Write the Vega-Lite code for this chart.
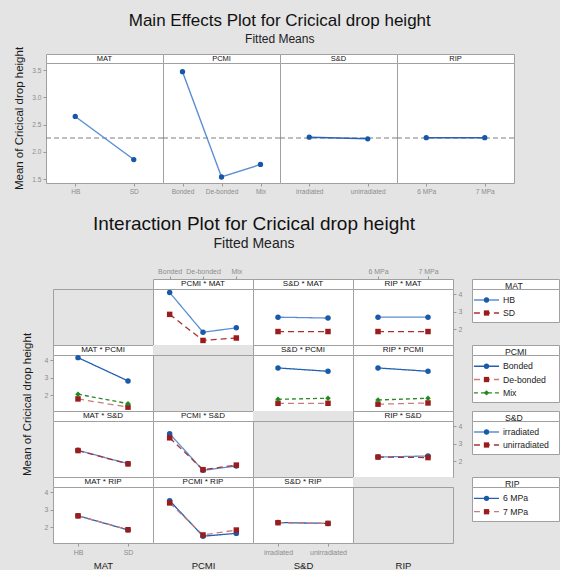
{
"$schema": "https://vega.github.io/schema/vega-lite/v6.json",
"background": "#E4E4E4",
"padding": {"left": 12, "top": 11, "right": 0, "bottom": 0},
"config": {
  "axis": {"labelColor": "#8C8C8C", "tickColor": "#9A9A9A", "labelFont": "Liberation Sans", "labelFontSize": 7, "titleFont": "Liberation Sans", "titleColor": "#1A1A1A", "titleFontWeight": "normal", "domain": false, "grid": false, "tickSize": 3, "labelPadding": 2, "labelOverlap": false},
  "legend": {"disable": true},
  "title": {"font": "Liberation Sans", "color": "#111111", "subtitleFont": "Liberation Sans", "subtitleColor": "#222222", "fontWeight": "normal"},
  "text": {"font": "Liberation Sans"}
},
"datasets": {
  "main": [
    {"factor": "MAT", "level": "HB", "mean": 2.65},
    {"factor": "MAT", "level": "SD", "mean": 1.86},
    {"factor": "PCMI", "level": "Bonded", "mean": 3.47},
    {"factor": "PCMI", "level": "De-bonded", "mean": 1.54},
    {"factor": "PCMI", "level": "Mix", "mean": 1.77},
    {"factor": "S&D", "level": "irradiated", "mean": 2.27},
    {"factor": "S&D", "level": "unirradiated", "mean": 2.24},
    {"factor": "RIP", "level": "6 MPa", "mean": 2.26},
    {"factor": "RIP", "level": "7 MPa", "mean": 2.26}
  ],
  "grand": [{"mean": 2.255}],
  "legend": [
    {"legend": "MAT", "trace": "HB"}, {"legend": "MAT", "trace": "SD"},
    {"legend": "PCMI", "trace": "Bonded"}, {"legend": "PCMI", "trace": "De-bonded"}, {"legend": "PCMI", "trace": "Mix"},
    {"legend": "S&D", "trace": "irradiated"}, {"legend": "S&D", "trace": "unirradiated"},
    {"legend": "RIP", "trace": "6 MPa"}, {"legend": "RIP", "trace": "7 MPa"}
  ],
  "inter": [
    {"cell": "PCMI * MAT", "x": "Bonded", "trace": "HB", "mean": 4.10},
    {"cell": "PCMI * MAT", "x": "De-bonded", "trace": "HB", "mean": 1.83},
    {"cell": "PCMI * MAT", "x": "Mix", "trace": "HB", "mean": 2.08},
    {"cell": "PCMI * MAT", "x": "Bonded", "trace": "SD", "mean": 2.85},
    {"cell": "PCMI * MAT", "x": "De-bonded", "trace": "SD", "mean": 1.36},
    {"cell": "PCMI * MAT", "x": "Mix", "trace": "SD", "mean": 1.50},
    {"cell": "S&D * MAT", "x": "irradiated", "trace": "HB", "mean": 2.69},
    {"cell": "S&D * MAT", "x": "unirradiated", "trace": "HB", "mean": 2.64},
    {"cell": "S&D * MAT", "x": "irradiated", "trace": "SD", "mean": 1.87},
    {"cell": "S&D * MAT", "x": "unirradiated", "trace": "SD", "mean": 1.87},
    {"cell": "RIP * MAT", "x": "6 MPa", "trace": "HB", "mean": 2.69},
    {"cell": "RIP * MAT", "x": "7 MPa", "trace": "HB", "mean": 2.69},
    {"cell": "RIP * MAT", "x": "6 MPa", "trace": "SD", "mean": 1.87},
    {"cell": "RIP * MAT", "x": "7 MPa", "trace": "SD", "mean": 1.87},
    {"cell": "MAT * PCMI", "x": "HB", "trace": "Bonded", "mean": 4.15},
    {"cell": "MAT * PCMI", "x": "SD", "trace": "Bonded", "mean": 2.82},
    {"cell": "MAT * PCMI", "x": "HB", "trace": "De-bonded", "mean": 1.79},
    {"cell": "MAT * PCMI", "x": "SD", "trace": "De-bonded", "mean": 1.32},
    {"cell": "MAT * PCMI", "x": "HB", "trace": "Mix", "mean": 2.06},
    {"cell": "MAT * PCMI", "x": "SD", "trace": "Mix", "mean": 1.52},
    {"cell": "S&D * PCMI", "x": "irradiated", "trace": "Bonded", "mean": 3.56},
    {"cell": "S&D * PCMI", "x": "unirradiated", "trace": "Bonded", "mean": 3.37},
    {"cell": "S&D * PCMI", "x": "irradiated", "trace": "De-bonded", "mean": 1.54},
    {"cell": "S&D * PCMI", "x": "unirradiated", "trace": "De-bonded", "mean": 1.54},
    {"cell": "S&D * PCMI", "x": "irradiated", "trace": "Mix", "mean": 1.77},
    {"cell": "S&D * PCMI", "x": "unirradiated", "trace": "Mix", "mean": 1.83},
    {"cell": "RIP * PCMI", "x": "6 MPa", "trace": "Bonded", "mean": 3.56},
    {"cell": "RIP * PCMI", "x": "7 MPa", "trace": "Bonded", "mean": 3.37},
    {"cell": "RIP * PCMI", "x": "6 MPa", "trace": "De-bonded", "mean": 1.49},
    {"cell": "RIP * PCMI", "x": "7 MPa", "trace": "De-bonded", "mean": 1.56},
    {"cell": "RIP * PCMI", "x": "6 MPa", "trace": "Mix", "mean": 1.73},
    {"cell": "RIP * PCMI", "x": "7 MPa", "trace": "Mix", "mean": 1.83},
    {"cell": "MAT * S&D", "x": "HB", "trace": "irradiated", "mean": 2.63},
    {"cell": "MAT * S&D", "x": "SD", "trace": "irradiated", "mean": 1.86},
    {"cell": "MAT * S&D", "x": "HB", "trace": "unirradiated", "mean": 2.61},
    {"cell": "MAT * S&D", "x": "SD", "trace": "unirradiated", "mean": 1.85},
    {"cell": "PCMI * S&D", "x": "Bonded", "trace": "irradiated", "mean": 3.57},
    {"cell": "PCMI * S&D", "x": "De-bonded", "trace": "irradiated", "mean": 1.48},
    {"cell": "PCMI * S&D", "x": "Mix", "trace": "irradiated", "mean": 1.73},
    {"cell": "PCMI * S&D", "x": "Bonded", "trace": "unirradiated", "mean": 3.34},
    {"cell": "PCMI * S&D", "x": "De-bonded", "trace": "unirradiated", "mean": 1.52},
    {"cell": "PCMI * S&D", "x": "Mix", "trace": "unirradiated", "mean": 1.78},
    {"cell": "RIP * S&D", "x": "6 MPa", "trace": "irradiated", "mean": 2.24},
    {"cell": "RIP * S&D", "x": "7 MPa", "trace": "irradiated", "mean": 2.30},
    {"cell": "RIP * S&D", "x": "6 MPa", "trace": "unirradiated", "mean": 2.24},
    {"cell": "RIP * S&D", "x": "7 MPa", "trace": "unirradiated", "mean": 2.21},
    {"cell": "MAT * RIP", "x": "HB", "trace": "6 MPa", "mean": 2.66},
    {"cell": "MAT * RIP", "x": "SD", "trace": "6 MPa", "mean": 1.85},
    {"cell": "MAT * RIP", "x": "HB", "trace": "7 MPa", "mean": 2.65},
    {"cell": "MAT * RIP", "x": "SD", "trace": "7 MPa", "mean": 1.86},
    {"cell": "PCMI * RIP", "x": "Bonded", "trace": "6 MPa", "mean": 3.52},
    {"cell": "PCMI * RIP", "x": "De-bonded", "trace": "6 MPa", "mean": 1.49},
    {"cell": "PCMI * RIP", "x": "Mix", "trace": "6 MPa", "mean": 1.65},
    {"cell": "PCMI * RIP", "x": "Bonded", "trace": "7 MPa", "mean": 3.39},
    {"cell": "PCMI * RIP", "x": "De-bonded", "trace": "7 MPa", "mean": 1.56},
    {"cell": "PCMI * RIP", "x": "Mix", "trace": "7 MPa", "mean": 1.84},
    {"cell": "S&D * RIP", "x": "irradiated", "trace": "6 MPa", "mean": 2.27},
    {"cell": "S&D * RIP", "x": "unirradiated", "trace": "6 MPa", "mean": 2.22},
    {"cell": "S&D * RIP", "x": "irradiated", "trace": "7 MPa", "mean": 2.26},
    {"cell": "S&D * RIP", "x": "unirradiated", "trace": "7 MPa", "mean": 2.22}
  ]
},
"spacing": 18,
"vconcat": [
{
  "title": {"text": "Main Effects Plot for Cricical drop height", "subtitle": "Fitted Means", "fontSize": 17, "subtitleFontSize": 12, "subtitlePadding": 4, "anchor": "middle", "dx": 16, "offset": 0},
  "columns": 4, "spacing": 0, "bounds": "flush", "align": "each",
  "concat": [
    {"width": 117, "height": 9, "view": {"fill": "white", "stroke": "#A0A0A0"}, "data": {"values": [{"label": "MAT"}]}, "mark": {"type": "text", "fontSize": 7.5, "color": "#111"}, "encoding": {"text": {"field": "label"}}},
    {"width": 117, "height": 9, "view": {"fill": "white", "stroke": "#A0A0A0"}, "data": {"values": [{"label": "PCMI"}]}, "mark": {"type": "text", "fontSize": 7.5, "color": "#111"}, "encoding": {"text": {"field": "label"}}},
    {"width": 117, "height": 9, "view": {"fill": "white", "stroke": "#A0A0A0"}, "data": {"values": [{"label": "S&D"}]}, "mark": {"type": "text", "fontSize": 7.5, "color": "#111"}, "encoding": {"text": {"field": "label"}}},
    {"width": 117, "height": 9, "view": {"fill": "white", "stroke": "#A0A0A0"}, "data": {"values": [{"label": "RIP"}]}, "mark": {"type": "text", "fontSize": 7.5, "color": "#111"}, "encoding": {"text": {"field": "label"}}},
    {"width": 117, "height": 120, "view": {"fill": "white", "stroke": "#A0A0A0"},
     "encoding": {"y": {"field": "mean", "type": "quantitative", "scale": {"domain": [1.43, 3.63], "nice": false, "zero": false}, "axis": {"values": [1.5, 2, 2.5, 3, 3.5], "format": ".1f", "labelFontSize": 6.6, "title": "Mean of Cricical drop height", "titleX": -27, "titleY": 55, "titleAlign": "center", "titleBaseline": "middle", "titleAngle": -90, "titleFontSize": 11.5}}},
     "layer": [
       {"data": {"name": "grand"}, "mark": {"type": "rule", "color": "#7F7F7F", "strokeDash": [5, 3], "strokeWidth": 1}, "encoding": {}},
       {"data": {"name": "main"}, "transform": [{"filter": "datum.factor === 'MAT'"}], "mark": {"type": "line", "color": "#5A8ED2", "strokeWidth": 1.4}, "encoding": {"x": {"field": "level", "type": "nominal", "sort": null, "scale": {"type": "point", "padding": 0.5}, "axis": {"title": null, "labelAngle": 0, "labelFontSize": 6.6}}}},
       {"data": {"name": "main"}, "transform": [{"filter": "datum.factor === 'MAT'"}], "mark": {"type": "point", "filled": true, "color": "#1756A9", "size": 28, "opacity": 1}, "encoding": {"x": {"field": "level", "type": "nominal", "sort": null}}}
     ]},
    {"width": 117, "height": 120, "view": {"fill": "white", "stroke": "#A0A0A0"},
     "encoding": {"y": {"field": "mean", "type": "quantitative", "scale": {"domain": [1.43, 3.63], "nice": false, "zero": false}, "axis": null}},
     "layer": [
       {"data": {"name": "grand"}, "mark": {"type": "rule", "color": "#7F7F7F", "strokeDash": [5, 3], "strokeWidth": 1}, "encoding": {}},
       {"data": {"name": "main"}, "transform": [{"filter": "datum.factor === 'PCMI'"}], "mark": {"type": "line", "color": "#5A8ED2", "strokeWidth": 1.4}, "encoding": {"x": {"field": "level", "type": "nominal", "sort": null, "scale": {"type": "point", "padding": 0.5}, "axis": {"title": null, "labelAngle": 0, "labelFontSize": 6.6}}}},
       {"data": {"name": "main"}, "transform": [{"filter": "datum.factor === 'PCMI'"}], "mark": {"type": "point", "filled": true, "color": "#1756A9", "size": 28, "opacity": 1}, "encoding": {"x": {"field": "level", "type": "nominal", "sort": null}}}
     ]},
    {"width": 117, "height": 120, "view": {"fill": "white", "stroke": "#A0A0A0"},
     "encoding": {"y": {"field": "mean", "type": "quantitative", "scale": {"domain": [1.43, 3.63], "nice": false, "zero": false}, "axis": null}},
     "layer": [
       {"data": {"name": "grand"}, "mark": {"type": "rule", "color": "#7F7F7F", "strokeDash": [5, 3], "strokeWidth": 1}, "encoding": {}},
       {"data": {"name": "main"}, "transform": [{"filter": "datum.factor === 'S&D'"}], "mark": {"type": "line", "color": "#2B62B0", "strokeWidth": 1.4}, "encoding": {"x": {"field": "level", "type": "nominal", "sort": null, "scale": {"type": "point", "padding": 0.5}, "axis": {"title": null, "labelAngle": 0, "labelFontSize": 6.6}}}},
       {"data": {"name": "main"}, "transform": [{"filter": "datum.factor === 'S&D'"}], "mark": {"type": "point", "filled": true, "color": "#1756A9", "size": 28, "opacity": 1}, "encoding": {"x": {"field": "level", "type": "nominal", "sort": null}}}
     ]},
    {"width": 117, "height": 120, "view": {"fill": "white", "stroke": "#A0A0A0"},
     "encoding": {"y": {"field": "mean", "type": "quantitative", "scale": {"domain": [1.43, 3.63], "nice": false, "zero": false}, "axis": null}},
     "layer": [
       {"data": {"name": "grand"}, "mark": {"type": "rule", "color": "#7F7F7F", "strokeDash": [5, 3], "strokeWidth": 1}, "encoding": {}},
       {"data": {"name": "main"}, "transform": [{"filter": "datum.factor === 'RIP'"}], "mark": {"type": "line", "color": "#2B62B0", "strokeWidth": 1.4}, "encoding": {"x": {"field": "level", "type": "nominal", "sort": null, "scale": {"type": "point", "padding": 0.5}, "axis": {"title": null, "labelAngle": 0, "labelFontSize": 6.6}}}},
       {"data": {"name": "main"}, "transform": [{"filter": "datum.factor === 'RIP'"}], "mark": {"type": "point", "filled": true, "color": "#1756A9", "size": 28, "opacity": 1}, "encoding": {"x": {"field": "level", "type": "nominal", "sort": null}}}
     ]}
  ]
},
{
  "title": {"text": "Interaction Plot for Cricical drop height", "subtitle": "Fitted Means", "fontSize": 19, "subtitleFontSize": 14, "subtitlePadding": 3, "anchor": "middle", "dx": -36, "offset": 16},
  "columns": 7, "spacing": 0, "bounds": "flush", "align": "each",
  "concat": [
    {"width": 7, "height": 1, "view": {"stroke": null}, "data": {"values": [{}]}, "mark": {"type": "text"}, "encoding": {"text": {"value": ""}}},
    {"width": 100, "height": 10, "view": {"fill": "#E4E4E4", "stroke": null}, "data": {"values": [{}]}, "mark": {"type": "text"}, "encoding": {"text": {"value": ""}}},
    {"width": 100, "height": 10, "view": {"fill": "white", "stroke": "#A0A0A0"},
     "layer": [
       {"data": {"name": "inter"}, "transform": [{"filter": "datum.cell === 'PCMI * MAT'"}], "mark": {"type": "point", "opacity": 0}, "encoding": {"x": {"field": "x", "type": "nominal", "sort": null, "scale": {"type": "point", "padding": 0.5}, "axis": {"orient": "top", "title": null, "labelAngle": 0}}}},
       {"data": {"values": [{"label": "PCMI * MAT"}]}, "mark": {"type": "text", "fontSize": 8, "color": "#111"}, "encoding": {"text": {"field": "label"}}}
     ]},
    {"width": 100, "height": 10, "view": {"fill": "white", "stroke": "#A0A0A0"}, "data": {"values": [{"label": "S&D * MAT"}]}, "mark": {"type": "text", "fontSize": 8, "color": "#111"}, "encoding": {"text": {"field": "label"}}},
    {"width": 100, "height": 10, "view": {"fill": "white", "stroke": "#A0A0A0"},
     "layer": [
       {"data": {"name": "inter"}, "transform": [{"filter": "datum.cell === 'RIP * MAT'"}], "mark": {"type": "point", "opacity": 0}, "encoding": {"x": {"field": "x", "type": "nominal", "sort": null, "scale": {"type": "point", "padding": 0.5}, "axis": {"orient": "top", "title": null, "labelAngle": 0}}}},
       {"data": {"values": [{"label": "RIP * MAT"}]}, "mark": {"type": "text", "fontSize": 8, "color": "#111"}, "encoding": {"text": {"field": "label"}}}
     ]},
    {"width": 19, "height": 1, "view": {"stroke": null}, "data": {"values": [{}]}, "mark": {"type": "text"}, "encoding": {"text": {"value": ""}}},
    {"width": 87, "height": 10, "view": {"fill": "white", "stroke": "#A0A0A0"}, "data": {"values": [{"label": "MAT"}]}, "mark": {"type": "text", "fontSize": 8.7, "color": "#222", "align": "left", "dx": -10.5, "dy": 1.5}, "encoding": {"text": {"field": "label"}}},

    {"width": 7, "height": 1, "view": {"stroke": null}, "data": {"values": [{}]}, "mark": {"type": "text"}, "encoding": {"text": {"value": ""}}},
    {"width": 100, "height": 56, "view": {"fill": "#E4E4E4", "stroke": "#A0A0A0"}, "data": {"values": [{}]}, "mark": {"type": "text"}, "encoding": {"text": {"value": ""}}},
    {"width": 100, "height": 56, "view": {"fill": "white", "stroke": "#A0A0A0"}, "data": {"name": "inter"}, "transform": [{"filter": "datum.cell === 'PCMI * MAT'"}],
     "encoding": {"x": {"field": "x", "type": "nominal", "sort": null, "scale": {"type": "point", "padding": 0.5}, "axis": null}, "y": {"field": "mean", "type": "quantitative", "scale": {"domain": [1.1, 4.3], "nice": false, "zero": false}, "axis": null}},
     "layer": [
       {"mark": {"type": "line", "strokeWidth": 1.3}, "encoding": {"stroke": {"field": "trace", "type": "nominal", "scale": {"domain": ["HB","SD","Bonded","De-bonded","Mix","irradiated","unirradiated","6 MPa","7 MPa"], "range": ["#5B8FD2","#A83232","#2260B0","#CC7A7A","#2A8A2A","#5B8FD2","#A83232","#2260B0","#CC7A7A"]}, "legend": null}, "strokeDash": {"field": "trace", "type": "nominal", "scale": {"domain": ["HB","SD","Bonded","De-bonded","Mix","irradiated","unirradiated","6 MPa","7 MPa"], "range": [[1,0],[6,4],[1,0],[6,4],[4,3],[1,0],[6,4],[1,0],[6,4]]}, "legend": null}}},
       {"mark": {"type": "point", "filled": true, "size": 30, "opacity": 1}, "encoding": {"fill": {"field": "trace", "type": "nominal", "scale": {"domain": ["HB","SD","Bonded","De-bonded","Mix","irradiated","unirradiated","6 MPa","7 MPa"], "range": ["#1A5AAA","#9B1C1C","#1A5AAA","#9B1C1C","#1E8A1E","#1A5AAA","#9B1C1C","#1A5AAA","#9B1C1C"]}, "legend": null}, "shape": {"field": "trace", "type": "nominal", "scale": {"domain": ["HB","SD","Bonded","De-bonded","Mix","irradiated","unirradiated","6 MPa","7 MPa"], "range": ["circle","square","circle","square","diamond","circle","square","circle","square"]}, "legend": null}}}
     ]},
    {"width": 100, "height": 56, "view": {"fill": "white", "stroke": "#A0A0A0"}, "data": {"name": "inter"}, "transform": [{"filter": "datum.cell === 'S&D * MAT'"}],
     "encoding": {"x": {"field": "x", "type": "nominal", "sort": null, "scale": {"type": "point", "padding": 0.5}, "axis": null}, "y": {"field": "mean", "type": "quantitative", "scale": {"domain": [1.1, 4.3], "nice": false, "zero": false}, "axis": null}},
     "layer": [
       {"mark": {"type": "line", "strokeWidth": 1.3}, "encoding": {"stroke": {"field": "trace", "type": "nominal", "legend": null}, "strokeDash": {"field": "trace", "type": "nominal", "legend": null}}},
       {"mark": {"type": "point", "filled": true, "size": 30, "opacity": 1}, "encoding": {"fill": {"field": "trace", "type": "nominal", "legend": null}, "shape": {"field": "trace", "type": "nominal", "legend": null}}}
     ]},
    {"width": 100, "height": 56, "view": {"fill": "white", "stroke": "#A0A0A0"}, "data": {"name": "inter"}, "transform": [{"filter": "datum.cell === 'RIP * MAT'"}],
     "encoding": {"x": {"field": "x", "type": "nominal", "sort": null, "scale": {"type": "point", "padding": 0.5}, "axis": null}, "y": {"field": "mean", "type": "quantitative", "scale": {"domain": [1.1, 4.3], "nice": false, "zero": false}, "axis": {"orient": "right", "values": [2, 3, 4], "title": null}}},
     "layer": [
       {"mark": {"type": "line", "strokeWidth": 1.3}, "encoding": {"stroke": {"field": "trace", "type": "nominal", "legend": null}, "strokeDash": {"field": "trace", "type": "nominal", "legend": null}}},
       {"mark": {"type": "point", "filled": true, "size": 30, "opacity": 1}, "encoding": {"fill": {"field": "trace", "type": "nominal", "legend": null}, "shape": {"field": "trace", "type": "nominal", "legend": null}}}
     ]},
    {"width": 19, "height": 1, "view": {"stroke": null}, "data": {"values": [{}]}, "mark": {"type": "text"}, "encoding": {"text": {"value": ""}}},
    {"width": 87, "height": 33, "view": {"fill": "white", "stroke": "#A0A0A0"},
     "data": {"name": "legend"}, "transform": [{"filter": "datum.legend === 'MAT'"}],
     "encoding": {"y": {"field": "trace", "type": "nominal", "sort": null, "scale": {"type": "point", "padding": 0.77, "align": 0.55}, "axis": null}},
     "layer": [
       {"mark": {"type": "rule", "strokeWidth": 1.3}, "encoding": {"x": {"datum": 2, "type": "quantitative", "scale": {"domain": [0, 87]}, "axis": null}, "x2": {"datum": 28}, "stroke": {"field": "trace", "type": "nominal", "legend": null}, "strokeDash": {"field": "trace", "type": "nominal", "legend": null}}},
       {"mark": {"type": "point", "filled": true, "size": 28, "opacity": 1}, "encoding": {"x": {"datum": 15, "type": "quantitative"}, "fill": {"field": "trace", "type": "nominal", "legend": null}, "shape": {"field": "trace", "type": "nominal", "legend": null}}},
       {"mark": {"type": "text", "align": "left", "baseline": "middle", "fontSize": 8.7, "color": "#222"}, "encoding": {"x": {"datum": 32, "type": "quantitative"}, "text": {"field": "trace"}}}
     ]},

    {"width": 7, "height": 1, "view": {"stroke": null}, "data": {"values": [{}]}, "mark": {"type": "text"}, "encoding": {"text": {"value": ""}}},
    {"width": 100, "height": 10, "view": {"fill": "white", "stroke": "#A0A0A0"}, "data": {"values": [{"label": "MAT * PCMI"}]}, "mark": {"type": "text", "fontSize": 8, "color": "#111"}, "encoding": {"text": {"field": "label"}}},
    {"width": 100, "height": 10, "view": {"fill": "#E4E4E4", "stroke": null}, "data": {"values": [{}]}, "mark": {"type": "text"}, "encoding": {"text": {"value": ""}}},
    {"width": 100, "height": 10, "view": {"fill": "white", "stroke": "#A0A0A0"}, "data": {"values": [{"label": "S&D * PCMI"}]}, "mark": {"type": "text", "fontSize": 8, "color": "#111"}, "encoding": {"text": {"field": "label"}}},
    {"width": 100, "height": 10, "view": {"fill": "white", "stroke": "#A0A0A0"}, "data": {"values": [{"label": "RIP * PCMI"}]}, "mark": {"type": "text", "fontSize": 8, "color": "#111"}, "encoding": {"text": {"field": "label"}}},
    {"width": 19, "height": 1, "view": {"stroke": null}, "data": {"values": [{}]}, "mark": {"type": "text"}, "encoding": {"text": {"value": ""}}},
    {"width": 87, "height": 10, "view": {"fill": "white", "stroke": "#A0A0A0"}, "data": {"values": [{"label": "PCMI"}]}, "mark": {"type": "text", "fontSize": 8.7, "color": "#222", "align": "left", "dx": -10.5, "dy": 1.5}, "encoding": {"text": {"field": "label"}}},

    {"width": 7, "height": 1, "view": {"stroke": null}, "data": {"values": [{}]}, "mark": {"type": "text"}, "encoding": {"text": {"value": ""}}},
    {"width": 100, "height": 56, "view": {"fill": "white", "stroke": "#A0A0A0"}, "data": {"name": "inter"}, "transform": [{"filter": "datum.cell === 'MAT * PCMI'"}],
     "encoding": {"x": {"field": "x", "type": "nominal", "sort": null, "scale": {"type": "point", "padding": 0.5}, "axis": null}, "y": {"field": "mean", "type": "quantitative", "scale": {"domain": [1.1, 4.3], "nice": false, "zero": false}, "axis": {"orient": "left", "values": [2, 3, 4], "title": "Mean of Cricical drop height", "titleX": -26, "titleY": 49, "titleAlign": "center", "titleBaseline": "middle", "titleAngle": -90, "titleFontSize": 11.5}}},
     "layer": [
       {"mark": {"type": "line", "strokeWidth": 1.3}, "encoding": {"stroke": {"field": "trace", "type": "nominal", "legend": null}, "strokeDash": {"field": "trace", "type": "nominal", "legend": null}}},
       {"mark": {"type": "point", "filled": true, "size": 30, "opacity": 1}, "encoding": {"fill": {"field": "trace", "type": "nominal", "legend": null}, "shape": {"field": "trace", "type": "nominal", "legend": null}}}
     ]},
    {"width": 100, "height": 56, "view": {"fill": "#E4E4E4", "stroke": "#A0A0A0"}, "data": {"values": [{}]}, "mark": {"type": "text"}, "encoding": {"text": {"value": ""}}},
    {"width": 100, "height": 56, "view": {"fill": "white", "stroke": "#A0A0A0"}, "data": {"name": "inter"}, "transform": [{"filter": "datum.cell === 'S&D * PCMI'"}],
     "encoding": {"x": {"field": "x", "type": "nominal", "sort": null, "scale": {"type": "point", "padding": 0.5}, "axis": null}, "y": {"field": "mean", "type": "quantitative", "scale": {"domain": [1.1, 4.3], "nice": false, "zero": false}, "axis": null}},
     "layer": [
       {"mark": {"type": "line", "strokeWidth": 1.3}, "encoding": {"stroke": {"field": "trace", "type": "nominal", "legend": null}, "strokeDash": {"field": "trace", "type": "nominal", "legend": null}}},
       {"mark": {"type": "point", "filled": true, "size": 30, "opacity": 1}, "encoding": {"fill": {"field": "trace", "type": "nominal", "legend": null}, "shape": {"field": "trace", "type": "nominal", "legend": null}}}
     ]},
    {"width": 100, "height": 56, "view": {"fill": "white", "stroke": "#A0A0A0"}, "data": {"name": "inter"}, "transform": [{"filter": "datum.cell === 'RIP * PCMI'"}],
     "encoding": {"x": {"field": "x", "type": "nominal", "sort": null, "scale": {"type": "point", "padding": 0.5}, "axis": null}, "y": {"field": "mean", "type": "quantitative", "scale": {"domain": [1.1, 4.3], "nice": false, "zero": false}, "axis": null}},
     "layer": [
       {"mark": {"type": "line", "strokeWidth": 1.3}, "encoding": {"stroke": {"field": "trace", "type": "nominal", "legend": null}, "strokeDash": {"field": "trace", "type": "nominal", "legend": null}}},
       {"mark": {"type": "point", "filled": true, "size": 30, "opacity": 1}, "encoding": {"fill": {"field": "trace", "type": "nominal", "legend": null}, "shape": {"field": "trace", "type": "nominal", "legend": null}}}
     ]},
    {"width": 19, "height": 1, "view": {"stroke": null}, "data": {"values": [{}]}, "mark": {"type": "text"}, "encoding": {"text": {"value": ""}}},
    {"width": 87, "height": 47, "view": {"fill": "white", "stroke": "#A0A0A0"},
     "data": {"name": "legend"}, "transform": [{"filter": "datum.legend === 'PCMI'"}],
     "encoding": {"y": {"field": "trace", "type": "nominal", "sort": null, "scale": {"type": "point", "padding": 0.77, "align": 0.55}, "axis": null}},
     "layer": [
       {"mark": {"type": "rule", "strokeWidth": 1.3}, "encoding": {"x": {"datum": 2, "type": "quantitative", "scale": {"domain": [0, 87]}, "axis": null}, "x2": {"datum": 28}, "stroke": {"field": "trace", "type": "nominal", "legend": null}, "strokeDash": {"field": "trace", "type": "nominal", "legend": null}}},
       {"mark": {"type": "point", "filled": true, "size": 28, "opacity": 1}, "encoding": {"x": {"datum": 15, "type": "quantitative"}, "fill": {"field": "trace", "type": "nominal", "legend": null}, "shape": {"field": "trace", "type": "nominal", "legend": null}}},
       {"mark": {"type": "text", "align": "left", "baseline": "middle", "fontSize": 8.7, "color": "#222"}, "encoding": {"x": {"datum": 32, "type": "quantitative"}, "text": {"field": "trace"}}}
     ]},

    {"width": 7, "height": 1, "view": {"stroke": null}, "data": {"values": [{}]}, "mark": {"type": "text"}, "encoding": {"text": {"value": ""}}},
    {"width": 100, "height": 10, "view": {"fill": "white", "stroke": "#A0A0A0"}, "data": {"values": [{"label": "MAT * S&D"}]}, "mark": {"type": "text", "fontSize": 8, "color": "#111"}, "encoding": {"text": {"field": "label"}}},
    {"width": 100, "height": 10, "view": {"fill": "white", "stroke": "#A0A0A0"}, "data": {"values": [{"label": "PCMI * S&D"}]}, "mark": {"type": "text", "fontSize": 8, "color": "#111"}, "encoding": {"text": {"field": "label"}}},
    {"width": 100, "height": 10, "view": {"fill": "#E4E4E4", "stroke": null}, "data": {"values": [{}]}, "mark": {"type": "text"}, "encoding": {"text": {"value": ""}}},
    {"width": 100, "height": 10, "view": {"fill": "white", "stroke": "#A0A0A0"}, "data": {"values": [{"label": "RIP * S&D"}]}, "mark": {"type": "text", "fontSize": 8, "color": "#111"}, "encoding": {"text": {"field": "label"}}},
    {"width": 19, "height": 1, "view": {"stroke": null}, "data": {"values": [{}]}, "mark": {"type": "text"}, "encoding": {"text": {"value": ""}}},
    {"width": 87, "height": 10, "view": {"fill": "white", "stroke": "#A0A0A0"}, "data": {"values": [{"label": "S&D"}]}, "mark": {"type": "text", "fontSize": 8.7, "color": "#222", "align": "left", "dx": -10.5, "dy": 1.5}, "encoding": {"text": {"field": "label"}}},

    {"width": 7, "height": 1, "view": {"stroke": null}, "data": {"values": [{}]}, "mark": {"type": "text"}, "encoding": {"text": {"value": ""}}},
    {"width": 100, "height": 56, "view": {"fill": "white", "stroke": "#A0A0A0"}, "data": {"name": "inter"}, "transform": [{"filter": "datum.cell === 'MAT * S&D'"}],
     "encoding": {"x": {"field": "x", "type": "nominal", "sort": null, "scale": {"type": "point", "padding": 0.5}, "axis": null}, "y": {"field": "mean", "type": "quantitative", "scale": {"domain": [1.1, 4.3], "nice": false, "zero": false}, "axis": null}},
     "layer": [
       {"mark": {"type": "line", "strokeWidth": 1.3}, "encoding": {"stroke": {"field": "trace", "type": "nominal", "legend": null}, "strokeDash": {"field": "trace", "type": "nominal", "legend": null}}},
       {"mark": {"type": "point", "filled": true, "size": 30, "opacity": 1}, "encoding": {"fill": {"field": "trace", "type": "nominal", "legend": null}, "shape": {"field": "trace", "type": "nominal", "legend": null}}}
     ]},
    {"width": 100, "height": 56, "view": {"fill": "white", "stroke": "#A0A0A0"}, "data": {"name": "inter"}, "transform": [{"filter": "datum.cell === 'PCMI * S&D'"}],
     "encoding": {"x": {"field": "x", "type": "nominal", "sort": null, "scale": {"type": "point", "padding": 0.5}, "axis": null}, "y": {"field": "mean", "type": "quantitative", "scale": {"domain": [1.1, 4.3], "nice": false, "zero": false}, "axis": null}},
     "layer": [
       {"mark": {"type": "line", "strokeWidth": 1.3}, "encoding": {"stroke": {"field": "trace", "type": "nominal", "legend": null}, "strokeDash": {"field": "trace", "type": "nominal", "legend": null}}},
       {"mark": {"type": "point", "filled": true, "size": 30, "opacity": 1}, "encoding": {"fill": {"field": "trace", "type": "nominal", "legend": null}, "shape": {"field": "trace", "type": "nominal", "legend": null}}}
     ]},
    {"width": 100, "height": 56, "view": {"fill": "#E4E4E4", "stroke": "#A0A0A0"}, "data": {"values": [{}]}, "mark": {"type": "text"}, "encoding": {"text": {"value": ""}}},
    {"width": 100, "height": 56, "view": {"fill": "white", "stroke": "#A0A0A0"}, "data": {"name": "inter"}, "transform": [{"filter": "datum.cell === 'RIP * S&D'"}],
     "encoding": {"x": {"field": "x", "type": "nominal", "sort": null, "scale": {"type": "point", "padding": 0.5}, "axis": null}, "y": {"field": "mean", "type": "quantitative", "scale": {"domain": [1.1, 4.3], "nice": false, "zero": false}, "axis": {"orient": "right", "values": [2, 3, 4], "title": null}}},
     "layer": [
       {"mark": {"type": "line", "strokeWidth": 1.3}, "encoding": {"stroke": {"field": "trace", "type": "nominal", "legend": null}, "strokeDash": {"field": "trace", "type": "nominal", "legend": null}}},
       {"mark": {"type": "point", "filled": true, "size": 30, "opacity": 1}, "encoding": {"fill": {"field": "trace", "type": "nominal", "legend": null}, "shape": {"field": "trace", "type": "nominal", "legend": null}}}
     ]},
    {"width": 19, "height": 1, "view": {"stroke": null}, "data": {"values": [{}]}, "mark": {"type": "text"}, "encoding": {"text": {"value": ""}}},
    {"width": 87, "height": 33, "view": {"fill": "white", "stroke": "#A0A0A0"},
     "data": {"name": "legend"}, "transform": [{"filter": "datum.legend === 'S&D'"}],
     "encoding": {"y": {"field": "trace", "type": "nominal", "sort": null, "scale": {"type": "point", "padding": 0.77, "align": 0.55}, "axis": null}},
     "layer": [
       {"mark": {"type": "rule", "strokeWidth": 1.3}, "encoding": {"x": {"datum": 2, "type": "quantitative", "scale": {"domain": [0, 87]}, "axis": null}, "x2": {"datum": 28}, "stroke": {"field": "trace", "type": "nominal", "legend": null}, "strokeDash": {"field": "trace", "type": "nominal", "legend": null}}},
       {"mark": {"type": "point", "filled": true, "size": 28, "opacity": 1}, "encoding": {"x": {"datum": 15, "type": "quantitative"}, "fill": {"field": "trace", "type": "nominal", "legend": null}, "shape": {"field": "trace", "type": "nominal", "legend": null}}},
       {"mark": {"type": "text", "align": "left", "baseline": "middle", "fontSize": 8.7, "color": "#222"}, "encoding": {"x": {"datum": 32, "type": "quantitative"}, "text": {"field": "trace"}}}
     ]},

    {"width": 7, "height": 1, "view": {"stroke": null}, "data": {"values": [{}]}, "mark": {"type": "text"}, "encoding": {"text": {"value": ""}}},
    {"width": 100, "height": 10, "view": {"fill": "white", "stroke": "#A0A0A0"}, "data": {"values": [{"label": "MAT * RIP"}]}, "mark": {"type": "text", "fontSize": 8, "color": "#111"}, "encoding": {"text": {"field": "label"}}},
    {"width": 100, "height": 10, "view": {"fill": "white", "stroke": "#A0A0A0"}, "data": {"values": [{"label": "PCMI * RIP"}]}, "mark": {"type": "text", "fontSize": 8, "color": "#111"}, "encoding": {"text": {"field": "label"}}},
    {"width": 100, "height": 10, "view": {"fill": "white", "stroke": "#A0A0A0"}, "data": {"values": [{"label": "S&D * RIP"}]}, "mark": {"type": "text", "fontSize": 8, "color": "#111"}, "encoding": {"text": {"field": "label"}}},
    {"width": 100, "height": 10, "view": {"fill": "#E4E4E4", "stroke": null}, "data": {"values": [{}]}, "mark": {"type": "text"}, "encoding": {"text": {"value": ""}}},
    {"width": 19, "height": 1, "view": {"stroke": null}, "data": {"values": [{}]}, "mark": {"type": "text"}, "encoding": {"text": {"value": ""}}},
    {"width": 87, "height": 10, "view": {"fill": "white", "stroke": "#A0A0A0"}, "data": {"values": [{"label": "RIP"}]}, "mark": {"type": "text", "fontSize": 8.7, "color": "#222", "align": "left", "dx": -10.5, "dy": 1.5}, "encoding": {"text": {"field": "label"}}},

    {"width": 7, "height": 1, "view": {"stroke": null}, "data": {"values": [{}]}, "mark": {"type": "text"}, "encoding": {"text": {"value": ""}}},
    {"width": 100, "height": 56, "view": {"fill": "white", "stroke": "#A0A0A0"}, "data": {"name": "inter"}, "transform": [{"filter": "datum.cell === 'MAT * RIP'"}],
     "encoding": {"x": {"field": "x", "type": "nominal", "sort": null, "scale": {"type": "point", "padding": 0.5}, "axis": {"orient": "bottom", "labelAngle": 0, "title": "MAT", "titleY": 22, "titleBaseline": "middle", "titleFontSize": 9.5}}, "y": {"field": "mean", "type": "quantitative", "scale": {"domain": [1.1, 4.3], "nice": false, "zero": false}, "axis": {"orient": "left", "values": [2, 3, 4], "title": null}}},
     "layer": [
       {"mark": {"type": "line", "strokeWidth": 1.3}, "encoding": {"stroke": {"field": "trace", "type": "nominal", "legend": null}, "strokeDash": {"field": "trace", "type": "nominal", "legend": null}}},
       {"mark": {"type": "point", "filled": true, "size": 30, "opacity": 1}, "encoding": {"fill": {"field": "trace", "type": "nominal", "legend": null}, "shape": {"field": "trace", "type": "nominal", "legend": null}}}
     ]},
    {"width": 100, "height": 56, "view": {"fill": "white", "stroke": "#A0A0A0"}, "data": {"name": "inter"}, "transform": [{"filter": "datum.cell === 'PCMI * RIP'"}],
     "encoding": {"x": {"field": "x", "type": "nominal", "sort": null, "scale": {"type": "point", "padding": 0.5}, "axis": {"orient": "bottom", "labels": false, "ticks": false, "title": "PCMI", "titleY": 22, "titleBaseline": "middle", "titleFontSize": 9.5}}, "y": {"field": "mean", "type": "quantitative", "scale": {"domain": [1.1, 4.3], "nice": false, "zero": false}, "axis": null}},
     "layer": [
       {"mark": {"type": "line", "strokeWidth": 1.3}, "encoding": {"stroke": {"field": "trace", "type": "nominal", "legend": null}, "strokeDash": {"field": "trace", "type": "nominal", "legend": null}}},
       {"mark": {"type": "point", "filled": true, "size": 30, "opacity": 1}, "encoding": {"fill": {"field": "trace", "type": "nominal", "legend": null}, "shape": {"field": "trace", "type": "nominal", "legend": null}}}
     ]},
    {"width": 100, "height": 56, "view": {"fill": "white", "stroke": "#A0A0A0"}, "data": {"name": "inter"}, "transform": [{"filter": "datum.cell === 'S&D * RIP'"}],
     "encoding": {"x": {"field": "x", "type": "nominal", "sort": null, "scale": {"type": "point", "padding": 0.5}, "axis": {"orient": "bottom", "labelAngle": 0, "title": "S&D", "titleY": 22, "titleBaseline": "middle", "titleFontSize": 9.5}}, "y": {"field": "mean", "type": "quantitative", "scale": {"domain": [1.1, 4.3], "nice": false, "zero": false}, "axis": null}},
     "layer": [
       {"mark": {"type": "line", "strokeWidth": 1.3}, "encoding": {"stroke": {"field": "trace", "type": "nominal", "legend": null}, "strokeDash": {"field": "trace", "type": "nominal", "legend": null}}},
       {"mark": {"type": "point", "filled": true, "size": 30, "opacity": 1}, "encoding": {"fill": {"field": "trace", "type": "nominal", "legend": null}, "shape": {"field": "trace", "type": "nominal", "legend": null}}}
     ]},
    {"width": 100, "height": 56, "view": {"fill": "#E4E4E4", "stroke": "#A0A0A0"}, "data": {"values": [{"lvl": "6 MPa"}, {"lvl": "7 MPa"}]}, "mark": {"type": "point", "opacity": 0},
     "encoding": {"x": {"field": "lvl", "type": "nominal", "axis": {"orient": "bottom", "labels": false, "ticks": false, "title": "RIP", "titleY": 22, "titleBaseline": "middle", "titleFontSize": 9.5}}}},
    {"width": 19, "height": 1, "view": {"stroke": null}, "data": {"values": [{}]}, "mark": {"type": "text"}, "encoding": {"text": {"value": ""}}},
    {"width": 87, "height": 34, "view": {"fill": "white", "stroke": "#A0A0A0"},
     "data": {"name": "legend"}, "transform": [{"filter": "datum.legend === 'RIP'"}],
     "encoding": {"y": {"field": "trace", "type": "nominal", "sort": null, "scale": {"type": "point", "padding": 0.77, "align": 0.55}, "axis": null}},
     "layer": [
       {"mark": {"type": "rule", "strokeWidth": 1.3}, "encoding": {"x": {"datum": 2, "type": "quantitative", "scale": {"domain": [0, 87]}, "axis": null}, "x2": {"datum": 28}, "stroke": {"field": "trace", "type": "nominal", "legend": null}, "strokeDash": {"field": "trace", "type": "nominal", "legend": null}}},
       {"mark": {"type": "point", "filled": true, "size": 28, "opacity": 1}, "encoding": {"x": {"datum": 15, "type": "quantitative"}, "fill": {"field": "trace", "type": "nominal", "legend": null}, "shape": {"field": "trace", "type": "nominal", "legend": null}}},
       {"mark": {"type": "text", "align": "left", "baseline": "middle", "fontSize": 8.7, "color": "#222"}, "encoding": {"x": {"datum": 32, "type": "quantitative"}, "text": {"field": "trace"}}}
     ]}
  ]
}
]
}
